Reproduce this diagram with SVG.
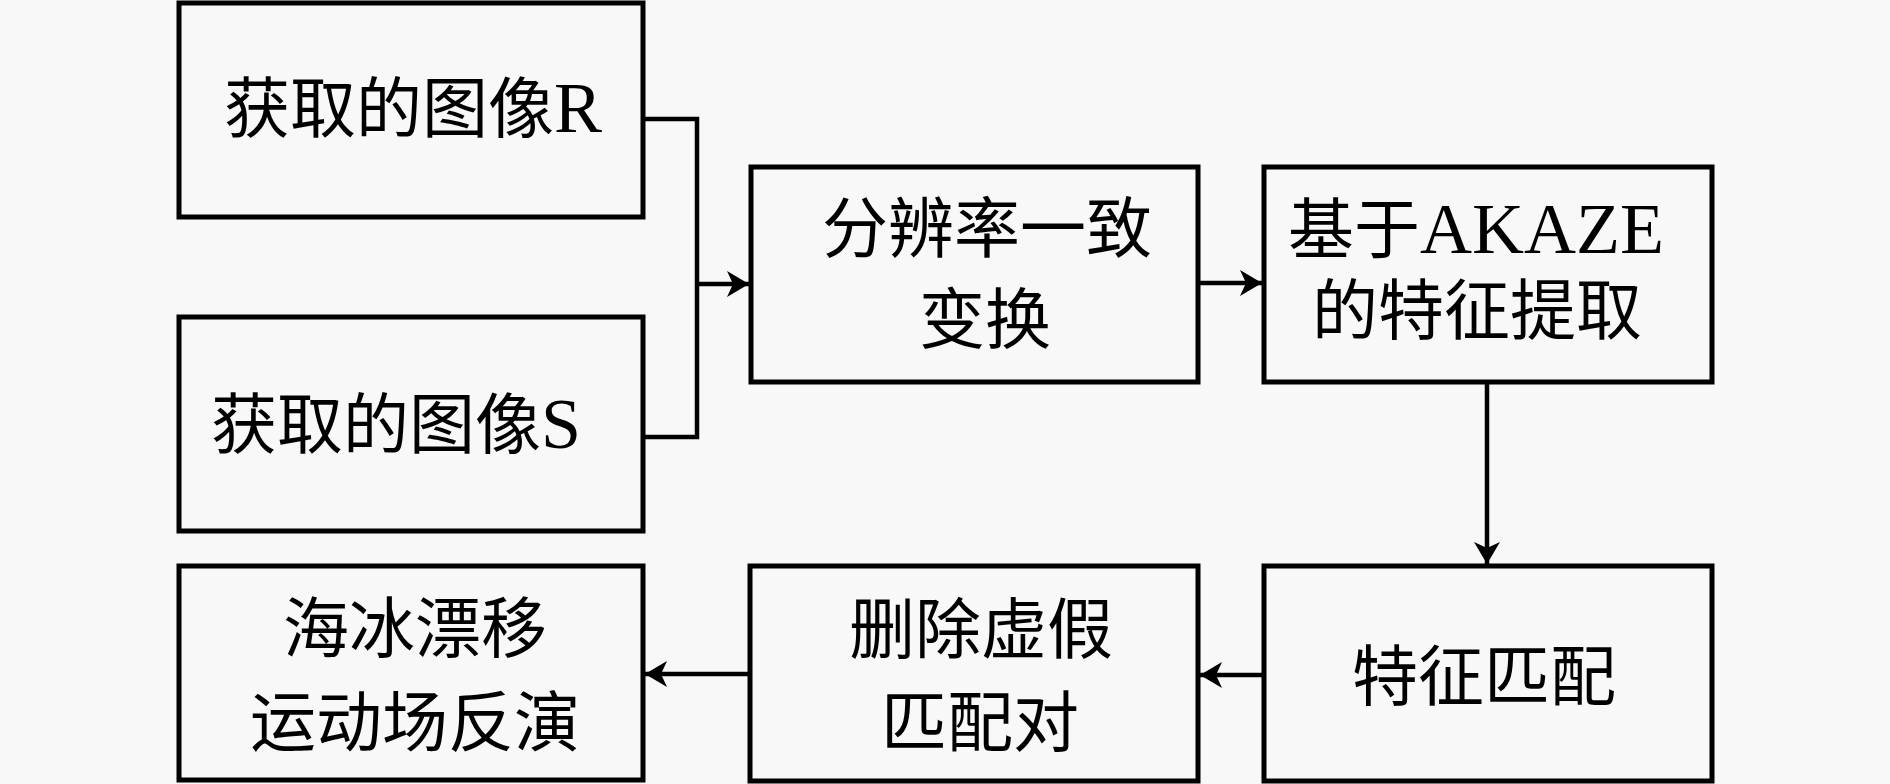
<svg xmlns="http://www.w3.org/2000/svg" width="1890" height="784" viewBox="0 0 1890 784">
<style>
.box{fill:#f8f8f8;stroke:#000;stroke-width:5}
.lbl{font-family:"Liberation Serif","Noto Sans CJK SC",serif;font-size:66px;fill:#000;text-anchor:middle}
.lat{font-size:72px}
.con{fill:none;stroke:#000;stroke-width:4.5}
</style>
<defs>
<marker id="ah" viewBox="0 0 22 26" refX="22" refY="13" markerWidth="22" markerHeight="26" markerUnits="userSpaceOnUse" orient="auto">
<path d="M0,0 L22,13 L0,26 L6,13 z" fill="#000"/>
</marker>
</defs>
<rect x="0" y="0" width="1890" height="784" fill="#f8f8f8"/>
<g id="connectors">
<path class="con" d="M643,119 H697 V437 H643"/>
<path class="con" d="M697,284 H749" marker-end="url(#ah)"/>
<path class="con" d="M1198,283 H1262" marker-end="url(#ah)"/>
<path class="con" d="M1487,382 V564" marker-end="url(#ah)"/>
<path class="con" d="M1264,675 H1200" marker-end="url(#ah)"/>
<path class="con" d="M750,674 H645" marker-end="url(#ah)"/>
</g>
<g id="node-r">
<rect class="box" x="179" y="3" width="464" height="214"/>
<text class="lbl" x="413" y="132">获取的图像<tspan class="lat">R</tspan></text>
</g>
<g id="node-s">
<rect class="box" x="179" y="317" width="464" height="214"/>
<text class="lbl" x="396" y="448">获取的图像<tspan class="lat">S</tspan></text>
</g>
<g id="node-resolution">
<rect class="box" x="751" y="167" width="447" height="215"/>
<text class="lbl" x="987" y="252">分辨率一致</text>
<text class="lbl" x="985" y="343">变换</text>
</g>
<g id="node-akaze">
<rect class="box" x="1264" y="167" width="448" height="215"/>
<text class="lbl" x="1476" y="253">基于<tspan class="lat">AKAZE</tspan></text>
<text class="lbl" x="1477" y="334">的特征提取</text>
</g>
<g id="node-match">
<rect class="box" x="1264" y="566" width="448" height="215"/>
<text class="lbl" x="1484" y="700">特征匹配</text>
</g>
<g id="node-delete">
<rect class="box" x="750" y="566" width="448" height="215"/>
<text class="lbl" x="981" y="653">删除虚假</text>
<text class="lbl" x="980" y="746">匹配对</text>
</g>
<g id="node-drift">
<rect class="box" x="179" y="566" width="464" height="214"/>
<text class="lbl" x="415" y="652">海冰漂移</text>
<text class="lbl" x="415" y="746">运动场反演</text>
</g>
</svg>
